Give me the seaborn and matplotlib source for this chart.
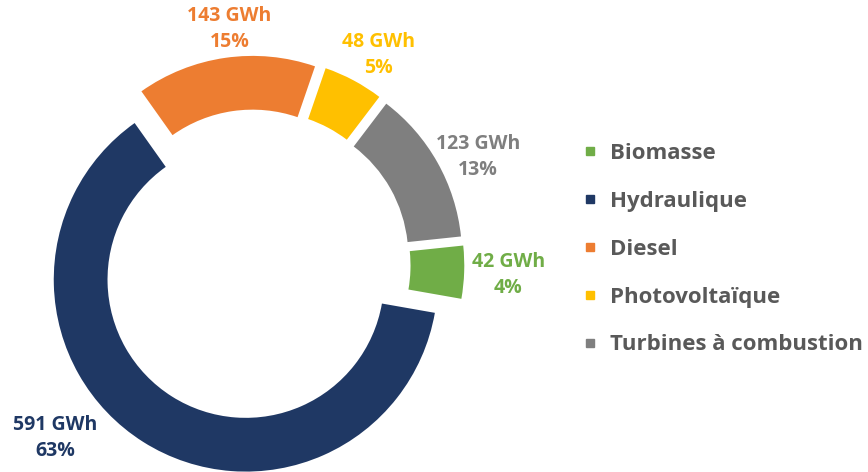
import matplotlib
matplotlib.use("Agg")
import matplotlib.pyplot as plt
from matplotlib.lines import Line2D
import numpy as np
import seaborn as sns

# --------------------------------------------------------------
# Data
# --------------------------------------------------------------
sources = ["Biomasse", "Hydraulique", "Diesel", "Photovoltaïque", "Turbines à combustion"]
gwh = [42, 591, 143, 48, 123]
pct_labels = ["4%", "63%", "15%", "5%", "13%"]
colors = ["#70AD47", "#1F3864", "#ED7D31", "#FFC000", "#7F7F7F"]

# --------------------------------------------------------------
# Style
# --------------------------------------------------------------
sns.set_theme(style="white")
plt.rcParams["font.family"] = ["Open Sans", "DejaVu Sans"]

fig = plt.figure(figsize=(8.68, 4.72), dpi=100)
ax = fig.add_axes([0, 0, 1, 1])

wedges, _ = ax.pie(
    gwh,
    colors=colors,
    startangle=6,
    counterclock=False,
    explode=[0.09] * len(gwh),
    wedgeprops=dict(width=0.28, linewidth=0),
)

# pixel layout: centre at (255, 265), radius 192 px
ax.set_xlim(-255 / 192, (868 - 255) / 192)
ax.set_ylim(-(472 - 265) / 192, 265 / 192)
ax.set_aspect("equal")
ax.axis("off")

# data labels, placed around each wedge
lab_dist = [1.32, 1.376, 1.235, 1.27, 1.29]
lab_shift = [-0.3, -16.7, -2.0, -2.3, -3.4]
for w, v, p, c, d, s in zip(wedges, gwh, pct_labels, colors, lab_dist, lab_shift):
    ang = np.deg2rad((w.theta1 + w.theta2) / 2 + s)
    ax.text(d * np.cos(ang), d * np.sin(ang), f"{v} GWh\n{p}",
            ha="center", va="center", color=c, fontsize=14,
            fontweight="bold", linespacing=1.4)

handles = [Line2D([0], [0], marker="s", linestyle="none", markersize=6,
                  markerfacecolor=c, markeredgecolor=c) for c in colors]
ax.legend(handles, sources, loc="center left", bbox_to_anchor=(0.672, 0.472),
          frameon=False, borderpad=0, borderaxespad=0, handlelength=0.6,
          handletextpad=0.6, labelspacing=1.21, labelcolor="#595959",
          prop=dict(size=16, weight="bold"))

plt.savefig("out.png", dpi=100)
